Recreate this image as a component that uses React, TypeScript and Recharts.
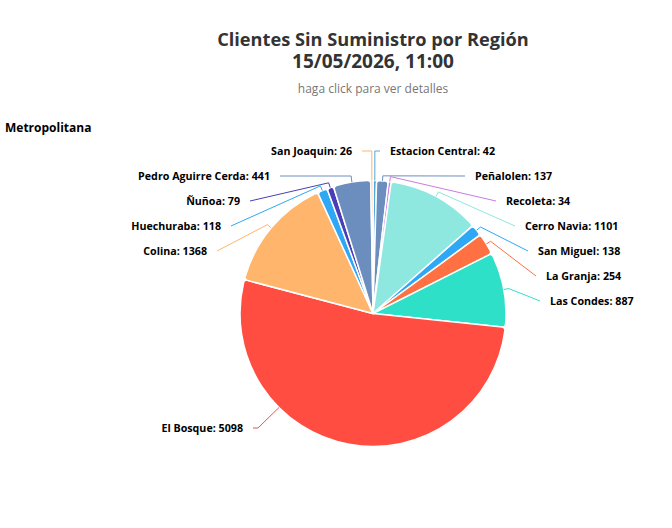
import { PieChart, Pie, Cell } from "recharts";

const comunas = [
  "Estacion Central",
  "Peñalolen",
  "Recoleta",
  "Cerro Navia",
  "San Miguel",
  "La Granja",
  "Las Condes",
  "El Bosque",
  "Colina",
  "Huechuraba",
  "Ñuñoa",
  "Pedro Aguirre Cerda",
  "San Joaquin",
];
const clientes = [42, 137, 34, 1101, 138, 254, 887, 5098, 1368, 118, 79, 441, 26];
const colores = [
  "#4FA8DC",
  "#6C8EBF",
  "#C77DE0",
  "#8EE8DF",
  "#2EA8F5",
  "#FF7043",
  "#2EE0C8",
  "#FF4D42",
  "#FFB56B",
  "#2EA8F5",
  "#4A3DB8",
  "#6C8EBF",
  "#FFB56B",
];

// where each leader line ends, same order as comunas
const lineEndX = [380, 465, 496, 515, 528, 536, 540, 253, 217, 231, 250, 280, 362];
const FIRST_ROW = 151;
const ROW_GAP = 25;
const BOSQUE = 7;
const BOSQUE_LABEL_ANGLE = 225; // label sits off the slice middle in the original
const BOSQUE_ROW = 428;

const data = comunas.map((name, i) => ({ name, value: clientes[i] }));

function SliceLabel(props: any) {
  const { cx, cy, midAngle, outerRadius, index, name, value } = props;
  const clockwise = index === BOSQUE ? BOSQUE_LABEL_ANGLE : 90 - midAngle;
  const rad = (clockwise * Math.PI) / 180;
  const at = (r: number) => ({
    x: cx + r * Math.sin(rad),
    y: cy - r * Math.cos(rad),
  });
  const start = at(outerRadius);
  const turn = at(outerRadius + 5);
  const left = index >= BOSQUE;
  const row =
    index === BOSQUE
      ? BOSQUE_ROW
      : FIRST_ROW + ROW_GAP * (left ? comunas.length - 1 - index : index);
  if (index === BOSQUE) {
    turn.x = start.x - 21;
    turn.y = row;
  }
  const turnY = Math.min(turn.y, row);
  const endX = lineEndX[index];

  return (
    <g>
      <polyline
        points={`${start.x},${start.y} ${turn.x},${turnY} ${endX},${row}`}
        fill="none"
        stroke={colores[index]}
        strokeWidth={1}
      />
      <text
        x={left ? endX - 10 : endX + 10}
        y={row}
        textAnchor={left ? "end" : "start"}
        dominantBaseline="central"
        fontFamily="'Open Sans', sans-serif"
        fontSize={10.7}
        fontWeight={700}
        fill="#000"
      >
        {name}: {value}
      </text>
    </g>
  );
}

export default function App() {
  return (
    <div style={{ position: "absolute", left: 0, top: 0, width: 672, height: 528 }}>
      <div
        style={{
          position: "absolute",
          left: 73,
          top: 28,
          width: 600,
          textAlign: "center",
          fontFamily: "'Open Sans', sans-serif",
          fontWeight: 700,
          color: "#333",
          lineHeight: "22px",
          zIndex: 1,
        }}
      >
        <div style={{ fontSize: 18.2 }}>Clientes Sin Suministro por Región</div>
        <div style={{ fontSize: 19 }}>15/05/2026, 11:00</div>
      </div>
      <PieChart width={672} height={528} margin={{ top: 0, right: 0, bottom: 0, left: 0 }}>
        <text
          x={373}
          y={93}
          textAnchor="middle"
          fontFamily="'Open Sans', sans-serif"
          fontSize={12}
          fill="#777"
        >
          haga click para ver detalles
        </text>
        <text
          x={5}
          y={132}
          fontFamily="'Open Sans', sans-serif"
          fontSize={12}
          fontWeight={700}
          fill="#000"
        >
          Metropolitana
        </text>
        <Pie
          data={data}
          dataKey="value"
          nameKey="name"
          cx={373}
          cy={313.5}
          innerRadius={0}
          outerRadius={133}
          startAngle={90}
          endAngle={-270}
          cornerRadius={3}
          stroke="#fff"
          strokeWidth={1.5}
          isAnimationActive={false}
          label={SliceLabel}
          labelLine={false}
        >
          {comunas.map((c, i) => (
            <Cell key={c} fill={colores[i]} />
          ))}
        </Pie>
      </PieChart>
    </div>
  );
}
